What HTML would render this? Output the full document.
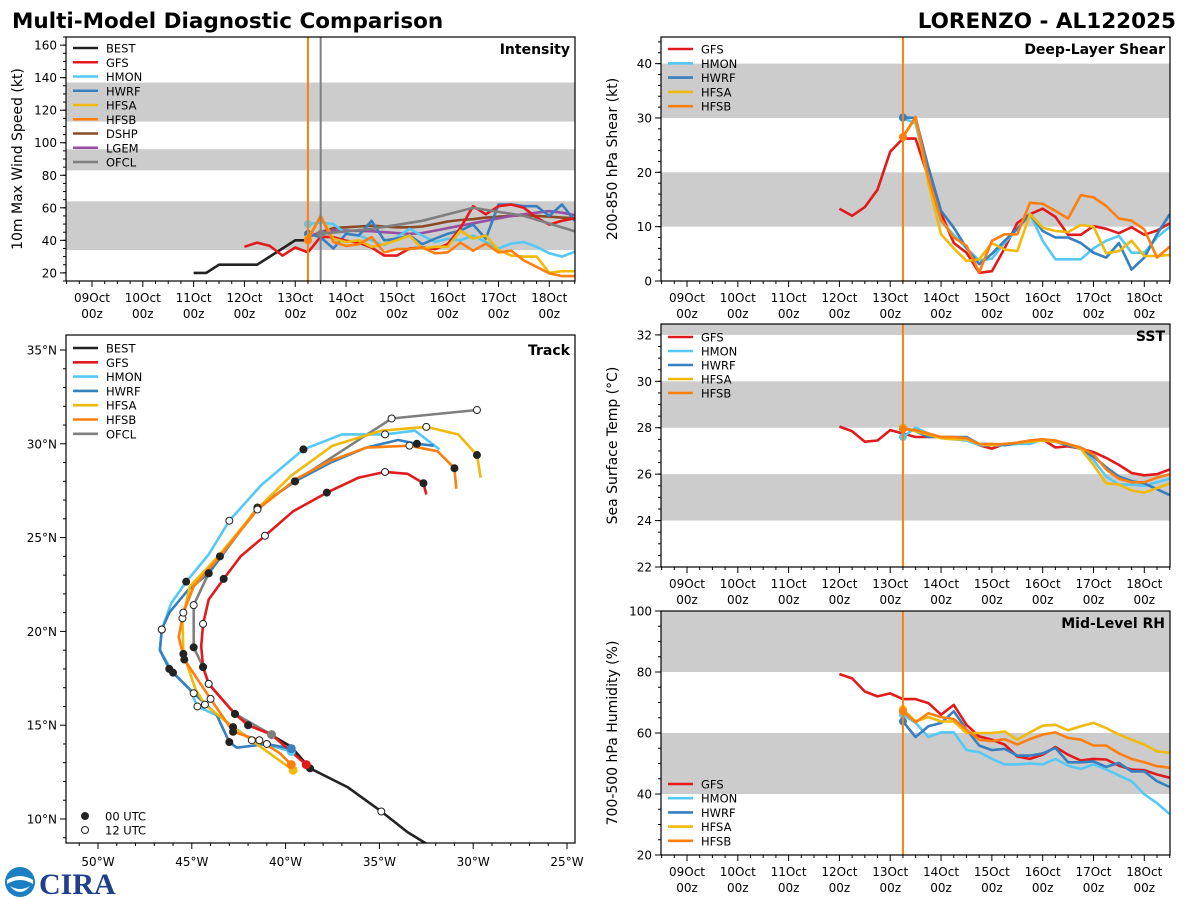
<!DOCTYPE html>
<html><head><meta charset="utf-8"><style>
html,body{margin:0;padding:0;background:#fff;}
svg{display:block;font-family:"DejaVu Sans","Liberation Sans",sans-serif;}
</style></head><body>
<svg id="chart" width="1200" height="900" viewBox="0 0 1200 900" xmlns="http://www.w3.org/2000/svg">
<text x="12" y="28" font-size="21.5" font-weight="bold" fill="#000">Multi-Model Diagnostic Comparison</text>
<text x="1176" y="28" font-size="21.5" font-weight="bold" fill="#000" text-anchor="end">LORENZO - AL122025</text>
<g>
<circle cx="20" cy="882" r="15" fill="#1a7fc4"/>
<path d="M7 880 Q20 872 33 880 L33 884 Q20 876 7 884Z" fill="#fff"/>
<path d="M10 886 Q20 898 30 886 Q20 892 10 886Z" fill="#fff"/>
<text x="39" y="894" font-size="30" font-weight="bold" fill="#1f3f8a" font-family="Liberation Serif, serif">CIRA</text>
</g>
</svg>
<script>
// ---------- DATA ----------
const bandsInt = [[34,64],[83,96],[113,137]];
const bandsShear = [[10,20],[30,40]];
const bandsSst = [[24,26],[28,30],[32,33]];
const bandsRh = [[40,60],[80,100]];
const dayLabels = ["09Oct","10Oct","11Oct","12Oct","13Oct","14Oct","15Oct","16Oct","17Oct","18Oct"];
const intTicks = [20,40,60,80,100,120,140,160];
const shearTicks = [0,10,20,30,40];
const sstTicks = [22,24,26,28,30,32];
const rhTicks = [20,40,60,80,100];
const lonTicks = [-50,-45,-40,-35,-30,-25];
const latTicks = [10,15,20,25,30,35];

const bestIntStart = 8;
const bestInt = [20,20,25,25,25,25,30,35,40,40];
const gfsStart = 12;
const modelStart = 17;
const gfsInt = [36,38.6,36.6,30.6,35.6,32.6,42.2,42,39.7,38.6,35.6,30.6,30.6,35,35.6,34.6,37.6,47.5,61,56,61,62,60,54,49.7,52,53.6];
const hmonInt = [50,51,50,44,43,40,37,42,47,43,39,41,40,43,39,35,38,39,36,32,30,33];
const hwrfInt = [44,42,35,44,43,52,40,41,43,37.6,41,44,46,49.7,41,62,62,61,61,55,62,52];
const hfsaInt = [41,55,41,39,40,36,37.6,40,43,35,36,36,46,41,43,34,30.6,30,30,20,21,21];
const hfsbInt = [40,55,39,36.6,37.6,42,32.6,34.6,34.6,35.6,32,32.6,38.6,33.6,38,32.6,33.6,27.6,23.7,19.7,18,18];
const dshpInt = [42,45,47.5,48,48.5,49,48.5,48,48,48.5,50,51.6,52.5,53,54,54.5,55,55.5,55,54.5,54,53.6];
const lgemInt = [42,45,46,46,45.8,45.6,45,44.5,44,44.5,46,47.5,49,50.5,52,53.5,55,56,57,58,57,55.5];
const ofclSteps = [18,22,26,30,34,38];
const ofclInt = [44,47,52,60,55,45.6];

const gfsShear = [13.3,12,13.6,16.8,23.8,26.2,26.2,19,12.4,7,5.2,1.5,1.8,6,10.7,12.3,13.3,11.8,8.5,8.5,10.1,9.6,8.8,9.9,8.5,9.3,10.6];
const hmonShear = [30,29,19,11,8.5,6,3.8,4.1,7,9.6,12.3,7.4,4,4,4,6,7.4,8.3,5.2,5.2,8,10];
const hwrfShear = [30.1,30,20.9,12.9,9.8,6.1,3.1,5,7.4,9.6,12.3,9.2,8,8,7,5.2,4.3,7,2.1,4.3,8.6,12.3];
const hfsaShear = [26.5,30,18,8.6,6,3.7,4,7,5.8,5.5,12.3,9.8,9.2,9,10.3,10,5.1,5.5,7.4,4.6,4.6,4.8];
const hfsbShear = [26.5,30.2,19,11.3,8,6.5,1.6,7.4,8.6,8.6,14.4,14.2,12.9,11.5,15.8,15.4,13.8,11.5,11.1,9.5,4.3,6.3];

const gfsSst = [28.05,27.85,27.4,27.45,27.9,27.75,27.6,27.6,27.6,27.55,27.5,27.25,27.1,27.3,27.35,27.45,27.5,27.15,27.2,27.1,26.95,26.7,26.4,26.05,25.95,26,26.2];
const hmonSst = [27.6,28,27.75,27.55,27.5,27.45,27.25,27.25,27.25,27.3,27.3,27.5,27.4,27.25,27.1,26.6,25.9,25.55,25.55,25.5,25.65,25.8];
const hwrfSst = [28,27.85,27.6,27.6,27.6,27.6,27.3,27.3,27.25,27.35,27.4,27.45,27.4,27.25,27.1,26.75,26.3,25.9,25.7,25.6,25.35,25.1];
const hfsaSst = [28,27.85,27.7,27.55,27.5,27.5,27.3,27.25,27.3,27.35,27.4,27.45,27.4,27.3,27.1,26.4,25.6,25.55,25.3,25.2,25.4,25.6];
const hfsbSst = [27.95,27.9,27.75,27.6,27.6,27.55,27.3,27.3,27.3,27.35,27.45,27.5,27.45,27.3,27.15,26.85,26.2,25.8,25.65,25.65,25.85,26.0];

const gfsRh = [79.3,77.9,73.6,72,73,71.1,71.1,69.8,66,69.2,62.7,58.9,57.8,56.2,52.3,51.5,52.9,55.4,52.9,51,51.5,51.3,49.3,48,47.8,46.4,45.3];
const hmonRh = [66,63.3,58.7,60.2,60.2,54.4,53.7,51.5,49.7,49.7,50,49.7,51.5,49.3,48.2,49.7,48,46.1,44.2,39.9,37,33.4];
const hwrfRh = [63.8,58.7,62.2,63.3,67.1,61.1,55.9,54.4,54.8,52.6,52.6,53.3,55.1,50.4,50.4,50.7,48.9,50.2,47.4,47.4,44.2,42.3];
const hfsaRh = [67.8,63.8,65.2,63.8,63.8,60,60,60,60.5,57.8,60.2,62.4,62.7,60.9,62.2,63.3,61.6,59.5,57.8,56.2,54,53.5];
const hfsbRh = [67.1,63.5,66.5,65.2,64.6,61.1,57.8,57.3,58,56.2,58,59.5,60.2,58.4,57.8,55.9,55.9,53.3,51.5,50.4,49.1,48.6];

const bestLon = [-40.8,-39.7,-38.7,-36.7,-34.9,-33.5,-32.2];
const bestLat = [14.5,13.85,12.7,11.7,10.4,9.3,8.5];
const bestMk = [0,0,1,0,2,0,0];
const gfsLon = [-38.9,-40.75,-42,-42.7,-44.1,-44.4,-44.5,-44.4,-44.1,-43.3,-42.4,-41.1,-39.6,-37.8,-36.1,-34.7,-33.5,-32.65,-32.5];
const gfsLat = [12.9,14.5,15.0,15.6,17.2,18.1,19.2,20.4,21.7,22.8,24.0,25.1,26.4,27.4,28.2,28.5,28.4,27.9,27.3];
const gfsMk = [0,0,1,1,2,1,0,2,0,1,0,2,0,1,0,2,0,1,0];
const hmonLon = [-39.7,-41.8,-43.5,-44.7,-45.1,-46,-46.7,-46.6,-46.1,-45.3,-44.1,-43,-41.3,-39.05,-37,-34.7,-33.1,-31.8];
const hmonLat = [13.6,14.2,15.45,16,16.9,17.8,19,20.1,21.5,22.65,24.1,25.9,27.8,29.7,30.5,30.5,30.7,29.7];
const hmonMk = [0,2,0,2,0,1,0,2,0,1,0,2,0,1,0,2,0,0];
const hwrfLon = [-39.7,-41,-42.6,-43,-43.7,-44.9,-46.2,-46.7,-46.6,-46.2,-45.2,-44.1,-41.5,-39.5,-37.6,-35.7,-34,-33,-32.1];
const hwrfLat = [13.75,14,13.8,14.1,15.6,16.7,18,19,20.1,21,22.2,23.1,26.6,28,29,29.8,30.2,30,29.9];
const hwrfMk = [0,2,0,1,0,2,1,0,2,0,0,1,2,1,0,0,0,1,0];
const hfsaLon = [-39.6,-42.8,-44.3,-44.8,-45.45,-45.5,-45.1,-43.6,-41.5,-39.7,-37.5,-34.9,-32.5,-30.8,-29.8,-29.6];
const hfsaLat = [12.6,14.9,16.1,16.9,18.8,20.7,22.4,24,26.55,28.3,29.9,30.7,30.9,30.5,29.4,28.2];
const hfsaMk = [0,1,2,0,1,2,0,0,2,0,0,0,2,0,1,0];
const hfsbLon = [-39.7,-40.3,-41.4,-42.8,-44,-45.4,-45.7,-45.45,-44.9,-43.5,-41.5,-39.4,-37.6,-35.7,-33.4,-31.9,-31,-30.9];
const hfsbLat = [12.9,13.5,14.2,14.65,16.4,18.5,19.7,21,22.4,24,26.5,28.15,29.1,29.8,29.9,29.6,28.7,27.6];
const hfsbMk = [0,0,2,1,2,1,0,2,0,1,2,0,0,0,2,0,1,0];
const ofclLon = [-40.75,-42.7,-44.1,-44.4,-44.9,-44.9,-44.1,-41.5,-39.5,-34.35,-29.8];
const ofclLat = [14.5,15.6,17.2,18.1,19.15,21.4,23.1,26.6,28,31.35,31.8];
const ofclMk = [0,1,2,1,1,2,1,2,1,2,2];

// ---------- DRAWING ----------
const NS = "http://www.w3.org/2000/svg";
const svg = document.getElementById("chart");
const C = {BEST:"#222222",GFS:"#e31a1c",HMON:"#56c8f5",HWRF:"#367fc0",HFSA:"#f0b90b",HFSB:"#ff7f0e",DSHP:"#8c4a26",LGEM:"#984ea3",OFCL:"#7f7f7f"};
function mk(tag, at, parent){ const e=document.createElementNS(NS,tag); for(const k in at) e.setAttribute(k,at[k]); (parent||svg).appendChild(e); return e; }
function txt(x,y,s,size,anchor,parent,extra){ const t=mk("text",Object.assign({x:x,y:y,"font-size":size,"text-anchor":anchor||"start",fill:"#000"},extra||{}),parent); t.textContent=s; return t; }

function timePanel(name,x0,y0,x1,y1,ymin,ymax,ticks,minorStep,bands,title,label,stepX0){
  const g=mk("g",{});
  
  
  const px=(k)=>stepX0+k*((x1-x0)/40.07);
  const py=(v)=>y1-(v-ymin)/(ymax-ymin)*(y1-y0);
  bands.forEach(b=>{ const r=mk("rect",{x:x0,y:py(Math.min(b[1],ymax)),width:x1-x0,height:py(b[0])-py(Math.min(b[1],ymax)),fill:"#cccccc"},g);
    
     });
  for(let v=ymin; v<=ymax+1e-6; v+=minorStep){ mk("line",{x1:x0,x2:x0-3,y1:py(v),y2:py(v),stroke:"#000","stroke-width":1},g); }
  ticks.forEach(v=>{ mk("line",{x1:x0,x2:x0-6,y1:py(v),y2:py(v),stroke:"#000","stroke-width":1},g);
    const t=txt(x0-9,py(v)+4.5,String(v),12,"end",g);
    
     });
  for(let k=-2;k<=38;k++){ const X=px(k); if(X<x0-0.5||X>x1+0.5) continue;
    mk("line",{x1:X,x2:X,y1:y1,y2:y1+(k%4===0?6:3),stroke:"#000","stroke-width":1},g); }
  dayLabels.forEach((d,i)=>{ const X=px(i*4);
    const t=txt(X,y1+21,d,12,"middle",g);
    
    
    txt(X,y1+37,"00z",12,"middle",g); });
  const yt=txt(0,0,title,14,"middle",g,{transform:`translate(${x0-44},${(y0+y1)/2}) rotate(-90)`});
  
  
  const lb=txt(x1-5,y0+17,label,14,"end",g,{"font-weight":"bold"});
  
  
  return {g,px,py,x0,y0,x1,y1};
}
function frame(P){ const r=mk("rect",{x:P.x0,y:P.y0,width:P.x1-P.x0,height:P.y1-P.y0,fill:"none",stroke:"#000","stroke-width":1.2},P.g);
  
   }
function series(P,model,start,vals,dot){
  const pts=vals.map((v,i)=>P.px(start+i).toFixed(1)+","+P.py(v).toFixed(1)).join(" ");
  const l=mk("polyline",{points:pts,fill:"none",stroke:C[model],"stroke-width":2.6,"stroke-linejoin":"round"},P.g);
  
  
  if(dot){ const c=mk("circle",{cx:P.px(start),cy:P.py(vals[0]),r:4,fill:C[model]},P.g);
    
     }
}
function seriesSteps(P,model,steps,vals){
  const pts=vals.map((v,i)=>P.px(steps[i]).toFixed(1)+","+P.py(v).toFixed(1)).join(" ");
  const l=mk("polyline",{points:pts,fill:"none",stroke:C[model],"stroke-width":2.6},P.g);
  
  
  const c=mk("circle",{cx:P.px(steps[0]),cy:P.py(vals[0]),r:4,fill:C[model]},P.g);
  
  
}
function vline(P,k,color){ const l=mk("line",{x1:P.px(k),x2:P.px(k),y1:P.y0,y2:P.y1,stroke:color,"stroke-width":2},P.g);
  
   }
function legend(P,models,x,y,dy){
  const g=mk("g",{},P.g);
  
  
  models.forEach((m,i)=>{ const Y=y+i*dy;
    mk("line",{x1:x,x2:x+25,y1:Y,y2:Y,stroke:C[m],"stroke-width":2.6},g);
    const t=txt(x+33,Y+4.5,m,11.5,"start",g);
    
     });
}

const P1=timePanel("intensity",66,37,575,281,15,165,intTicks,5,bandsInt,"10m Max Wind Speed (kt)","Intensity",92);
series(P1,"BEST",bestIntStart,bestInt,false);
series(P1,"DSHP",modelStart,dshpInt,false);
series(P1,"LGEM",modelStart,lgemInt,false);
series(P1,"HMON",modelStart,hmonInt,true);
series(P1,"HWRF",modelStart,hwrfInt,true);
series(P1,"GFS",gfsStart,gfsInt,false);
series(P1,"HFSA",modelStart,hfsaInt,true);
series(P1,"HFSB",modelStart,hfsbInt,true);
seriesSteps(P1,"OFCL",ofclSteps,ofclInt);
vline(P1,17,"#ff7f0e"); vline(P1,18,"#808080");
frame(P1);
legend(P1,["BEST","GFS","HMON","HWRF","HFSA","HFSB","DSHP","LGEM","OFCL"],73,48,14.25);

const P2=timePanel("shear",661,37,1170,281,0,44.9,shearTicks,2,bandsShear,"200-850 hPa Shear (kt)","Deep-Layer Shear",687);
series(P2,"GFS",gfsStart,gfsShear,false);
series(P2,"HMON",modelStart,hmonShear,true);
series(P2,"HWRF",modelStart,hwrfShear,true);
series(P2,"HFSA",modelStart,hfsaShear,true);
series(P2,"HFSB",modelStart,hfsbShear,true);
vline(P2,17,"#ff7f0e"); frame(P2);
legend(P2,["GFS","HMON","HWRF","HFSA","HFSB"],668,49,14.3);

const P4=timePanel("sst",661,324,1170,567,22,32.47,sstTicks,0.5,bandsSst,"Sea Surface Temp (°C)","SST",687);
series(P4,"GFS",gfsStart,gfsSst,false);
series(P4,"HMON",modelStart,hmonSst,true);
series(P4,"HWRF",modelStart,hwrfSst,true);
series(P4,"HFSA",modelStart,hfsaSst,true);
series(P4,"HFSB",modelStart,hfsbSst,true);
vline(P4,17,"#ff7f0e"); frame(P4);
legend(P4,["GFS","HMON","HWRF","HFSA","HFSB"],668,337,14);

const P5=timePanel("rh",661,611,1170,855,20,100,rhTicks,5,bandsRh,"700-500 hPa Humidity (%)","Mid-Level RH",687);
series(P5,"GFS",gfsStart,gfsRh,false);
series(P5,"HMON",modelStart,hmonRh,true);
series(P5,"HWRF",modelStart,hwrfRh,true);
series(P5,"HFSA",modelStart,hfsaRh,true);
series(P5,"HFSB",modelStart,hfsbRh,true);
vline(P5,17,"#ff7f0e"); frame(P5);
legend(P5,["GFS","HMON","HWRF","HFSA","HFSB"],668,784,14.2);

const T={x0:66,y0:335,x1:575,y1:843};
const tg=mk("g",{});


T.g=tg;
const lx=(lon)=>98+(lon+50)*18.76;
const ly=(lat)=>819-(lat-10)*18.76;
const clip=mk("clipPath",{id:"tclip"},tg); mk("rect",{x:T.x0,y:T.y0,width:T.x1-T.x0,height:T.y1-T.y0},clip);
for(let lo=-51;lo<=-25;lo++){ const X=lx(lo); if(X<T.x0||X>T.x1) continue; mk("line",{x1:X,x2:X,y1:T.y1,y2:T.y1+(lo%5===0?6:3),stroke:"#000"},tg); }
lonTicks.forEach(lo=>{ const t=txt(lx(lo),T.y1+23,(-lo)+"°W",12,"middle",tg);
  
   });
for(let la=9;la<=35;la++){ const Y=ly(la); if(Y<T.y0||Y>T.y1) continue; mk("line",{x1:T.x0,x2:T.x0-(la%5===0?6:3),y1:Y,y2:Y,stroke:"#000"},tg); }
latTicks.forEach(la=>{ const t=txt(T.x0-9,ly(la)+4.5,la+"°N",12,"end",tg);
  
   });
const tl=txt(T.x1-5,T.y0+20,"Track",14,"end",tg,{"font-weight":"bold"});


const tdata=mk("g",{"clip-path":"url(#tclip)"},tg);
function track(model,lons,lats){
  const pts=lons.map((v,i)=>lx(v).toFixed(1)+","+ly(lats[i]).toFixed(1)).join(" ");
  const l=mk("polyline",{points:pts,fill:"none",stroke:C[model],"stroke-width":2.6,"stroke-linejoin":"round"},tdata);
  
  
}
function trackMarks(model,lons,lats,mks){
  if(model!=="BEST"){ const c=mk("circle",{cx:lx(lons[0]),cy:ly(lats[0]),r:4.5,fill:C[model]},tdata);
    
     }
  mks.forEach((m,i)=>{ if(!m) return;
    const c=mk("circle",{cx:lx(lons[i]),cy:ly(lats[i]),r:3.5,fill:m===1?"#222":"#fff",stroke:"#222","stroke-width":1},tdata);
    
     });
}
track("BEST",bestLon,bestLat); track("OFCL",ofclLon,ofclLat); track("HMON",hmonLon,hmonLat);
track("HWRF",hwrfLon,hwrfLat); track("HFSA",hfsaLon,hfsaLat); track("HFSB",hfsbLon,hfsbLat); track("GFS",gfsLon,gfsLat);
trackMarks("BEST",bestLon,bestLat,bestMk); trackMarks("OFCL",ofclLon,ofclLat,ofclMk); trackMarks("HMON",hmonLon,hmonLat,hmonMk);
trackMarks("HWRF",hwrfLon,hwrfLat,hwrfMk); trackMarks("HFSA",hfsaLon,hfsaLat,hfsaMk); trackMarks("HFSB",hfsbLon,hfsbLat,hfsbMk); trackMarks("GFS",gfsLon,gfsLat,gfsMk);
const tf=mk("rect",{x:T.x0,y:T.y0,width:T.x1-T.x0,height:T.y1-T.y0,fill:"none",stroke:"#000","stroke-width":1.2},tg);


legend(T,["BEST","GFS","HMON","HWRF","HFSA","HFSB","OFCL"],73,348,14.3);
const ml=mk("g",{},tg);


mk("circle",{cx:85,cy:816,r:3.5,fill:"#222",stroke:"#222"},ml); txt(105,820.5,"00 UTC",11.5,"start",ml);
mk("circle",{cx:85,cy:830,r:3.5,fill:"#fff",stroke:"#222"},ml); txt(105,834.5,"12 UTC",11.5,"start",ml);
</script>
</body></html>
